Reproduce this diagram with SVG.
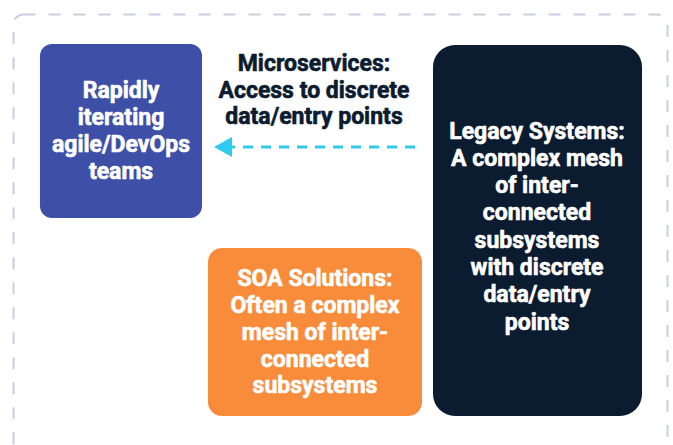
<svg xmlns="http://www.w3.org/2000/svg" width="673" height="445" viewBox="0 0 673 445">
<defs>
<style>
.t{font-family:Roboto,"Liberation Sans",sans-serif;font-weight:700;font-size:23px;text-anchor:middle;stroke-width:0.6px;stroke-linejoin:round}
.w{fill:#ffffff;stroke:#ffffff}
.d{fill:#0c1c30;stroke:#0c1c30}
</style>
</defs>
<rect x="0" y="0" width="673" height="445" fill="#ffffff"/>
<rect id="frame" x="13.5" y="14.5" width="654" height="460" rx="10" fill="none" stroke="#c9cee2" stroke-width="2" stroke-dasharray="12 13"/>
<g id="connectors">
<path d="M415,147 L232,147" fill="none" stroke="#2ecbee" stroke-width="3" stroke-dasharray="10 8"/>
<path d="M214,147 L232,137 L232,157 Z" fill="#2ecbee"/>
</g>
<g id="teams">
<rect x="40" y="44" width="162" height="174" rx="12" fill="#3d4fa7"/>
<text class="t w" x="121"><tspan x="121" y="98">Rapidly</tspan><tspan x="121" y="125">iterating</tspan><tspan x="121" y="152">agile/DevOps</tspan><tspan x="121" y="179">teams</tspan></text>
</g>
<g id="microservices">
<text class="t d" x="314"><tspan x="314" y="71">Microservices:</tspan><tspan x="314" y="98">Access to discrete</tspan><tspan x="314" y="124">data/entry points</tspan></text>
</g>
<g id="legacy">
<rect x="433" y="45" width="209" height="371" rx="22" fill="#0c1c30"/>
<text class="t w" x="537"><tspan x="537" y="139">Legacy Systems:</tspan><tspan x="537" y="166">A complex mesh</tspan><tspan x="537" y="193">of inter-</tspan><tspan x="537" y="220">connected</tspan><tspan x="537" y="248">subsystems</tspan><tspan x="537" y="275">with discrete</tspan><tspan x="537" y="302">data/entry</tspan><tspan x="537" y="330">points</tspan></text>
</g>
<g id="soa">
<rect x="208" y="248" width="214" height="168" rx="14" fill="#f98c3a"/>
<text class="t w" x="315"><tspan x="315" y="286">SOA Solutions:</tspan><tspan x="315" y="313">Often a complex</tspan><tspan x="315" y="340">mesh of inter-</tspan><tspan x="315" y="367">connected</tspan><tspan x="315" y="393">subsystems</tspan></text>
</g>
</svg>
